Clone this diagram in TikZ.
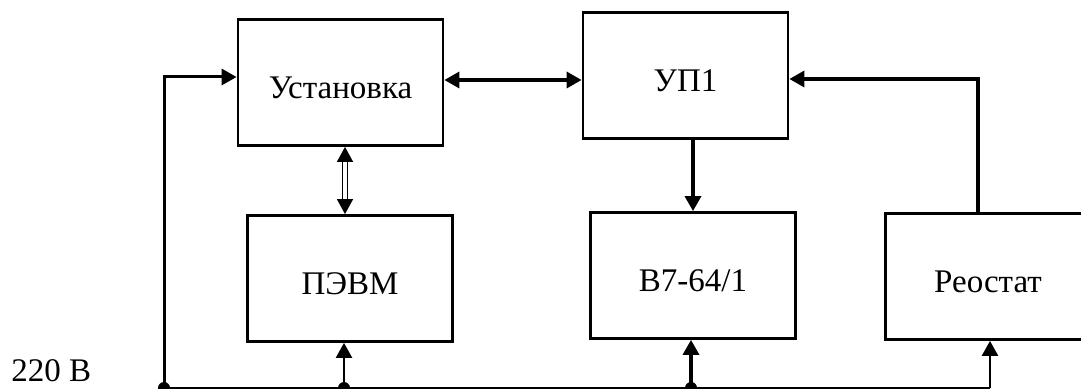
\documentclass[tikz,border=0pt]{standalone}
\usepackage{fontspec}
\setmainfont{Liberation Serif}
\usetikzlibrary{arrows.meta}

\begin{document}
\begin{tikzpicture}[x=0.5pt, y=-0.5pt, line width=1.4pt,
    >={Triangle[length=7.5pt, width=8pt]},
    block/.style = {draw, rectangle, minimum width=102.5pt, minimum height=63pt, inner sep=0pt,
                    text height=16.5pt, text depth=0pt, font=\fontsize{16.5}{19}\selectfont},
    arr/.style = {->, line width=1.7pt},
    wire/.style = {line width=1.2pt},
    dot/.style = {circle, fill, inner sep=0pt, minimum size=6pt}]
    \useasboundingbox (0,0) rectangle (1081,389);

    % blocks
    \node[block] (ustanovka) at (340.5,82.5) {Установка};
    \node[block] (up) at (685.5,75.5) {УП1};
    \node[block] (pevm) at (350,278.5) {ПЭВМ};
    \node[block] (volt) at (693,275.5) {В7-64/1};
    \node[block] (reostat) at (988,276.5) {Реостат};
    \node[font=\fontsize{16.5}{19}\selectfont, anchor=base west, inner sep=0pt] (mains) at (10,382) {220 В};

    % supply bus
    \coordinate (bA) at (164,388);
    \coordinate (bB) at (344,388);
    \coordinate (bC) at (691,388);
    \coordinate (bD) at (990,388);
    \draw[wire] (bA) -- (bD);
    \foreach \p in {bA,bB,bC} \node[dot] at (\p) {};

    % links
    \draw[arr, <->] ([yshift=1.25pt]ustanovka.east) -- ([yshift=1.25pt]ustanovka.east -| up.west);
    \draw[<->, double, double distance=1.6pt, line width=0.7pt]
        ([xshift=2.25pt]ustanovka.south) -- ([xshift=2.25pt]ustanovka.south |- pevm.north);
    \draw[arr] (up.south -| volt.north) -- (volt.north);
    \draw[arr] ([xshift=-5pt]reostat.north) |- ([yshift=-1.75pt]up.east);
    \draw[wire, ->, line width=1.5pt] (bA) |- ([yshift=2.75pt]ustanovka.west);

    % feeds from the bus
    \draw[wire, ->] (bB) -- (bB |- pevm.south);
    \draw[arr] (bC) -- (bC |- volt.south);
    \draw[wire, ->] (bD) -- (bD |- reostat.south);
\end{tikzpicture}
\end{document}
